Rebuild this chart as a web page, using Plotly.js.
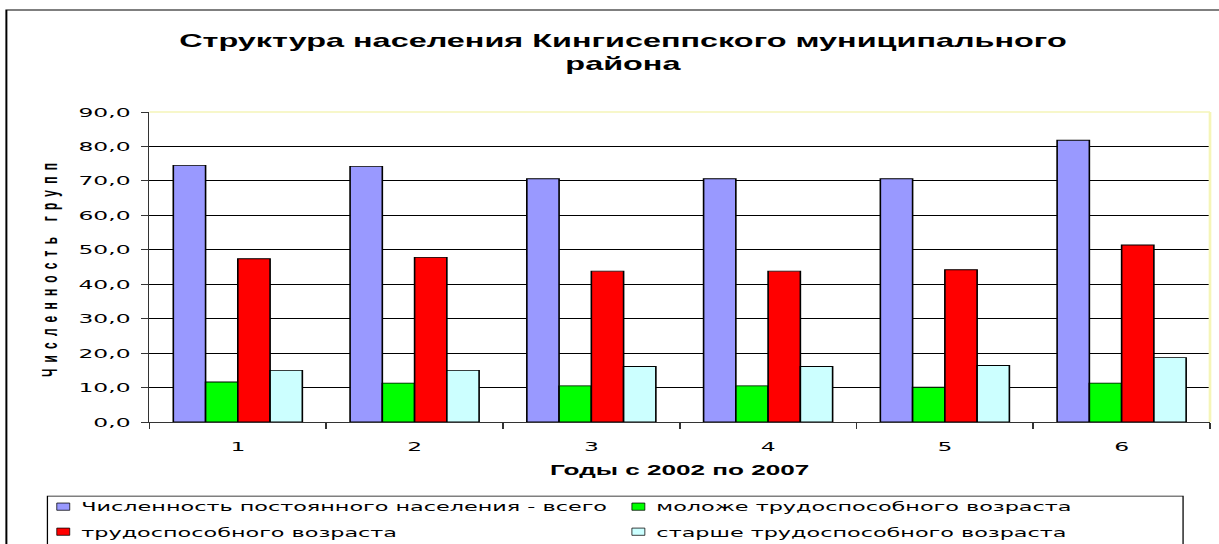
<!DOCTYPE html>
<html>
<head>
<meta charset="utf-8">
<script src="https://cdn.plot.ly/plotly-3.0.1.min.js"></script>
<style>
  html, body { margin: 0; padding: 0; background: #ffffff; overflow: hidden; }
  #wrap { width: 1219px; height: 544px; overflow: hidden; }
  #chart { width: 677px; height: 544px; transform: scaleX(1.8006); transform-origin: 0 0; }
  text.ytitle { letter-spacing: 6.2px; }
  g.legendpoints path { transform: translate(30px, 0px) scale(0.6, 0.6) !important; }
</style>
</head>
<body>
<div id="wrap"><div id="chart"></div></div>
<script>
// ---- data ----
const years = ['1', '2', '3', '4', '5', '6'];
const totalPop = [74.5, 74.2, 70.6, 70.6, 70.6, 81.8];
const youngerWorking = [11.6, 11.3, 10.5, 10.5, 10.1, 11.3];
const workingAge = [47.4, 47.8, 43.8, 43.8, 44.2, 51.4];
const olderWorking = [15.0, 15.0, 16.1, 16.1, 16.4, 18.7];
const seriesNames = [
  'Численность постоянного населения - всего',
  'моложе трудоспособного возраста',
  'трудоспособного возраста',
  'старше трудоспособного возраста'
];
const yTickVals = [0, 10, 20, 30, 40, 50, 60, 70, 80, 90];
const yTickText = ['0,0', '10,0', '20,0', '30,0', '40,0', '50,0', '60,0', '70,0', '80,0', '90,0'];
const chartTitle = 'Структура населения Кингисеппского муниципального<br>района';
const xTitle = 'Годы с 2002 по 2007';
const yTitle = 'Численность групп';

const outline = { color: '#000000', width: 0.9 };
const legendFont = { family: 'DejaVu Sans', size: 12.4, color: '#000000' };

const traces = [
  { type: 'bar', x: years, y: totalPop, name: seriesNames[0], legend: 'legend',
    marker: { color: '#9999ff', line: outline } },
  { type: 'bar', x: years, y: youngerWorking, name: seriesNames[1], legend: 'legend',
    marker: { color: '#00ff00', line: outline } },
  { type: 'bar', x: years, y: workingAge, name: seriesNames[2], legend: 'legend2',
    marker: { color: '#ff0000', line: outline } },
  { type: 'bar', x: years, y: olderWorking, name: seriesNames[3], legend: 'legend2',
    marker: { color: '#ccffff', line: outline } }
];

const legendCommon = {
  orientation: 'h', xanchor: 'left', yanchor: 'middle',
  bgcolor: 'rgba(0,0,0,0)', borderwidth: 0, font: legendFont,
  entrywidth: 274.4, entrywidthmode: 'pixels', traceorder: 'normal'
};

const layout = {
  width: 677, height: 544,
  margin: { l: 83.3, r: 5, t: 112, b: 122, autoexpand: false },
  paper_bgcolor: '#ffffff', plot_bgcolor: '#ffffff',
  barmode: 'group', bargap: 0.27, bargroupgap: 0,
  title: {
    text: chartTitle, x: 0.511, xanchor: 'center', y: 0.9145, yanchor: 'top',
    font: { family: 'Liberation Sans', size: 18, color: '#000000', weight: 'bold' }
  },
  xaxis: {
    type: 'category', tickson: 'boundaries', ticks: 'outside', ticklen: 6,
    tickcolor: '#333333', showline: true, linecolor: '#333333', linewidth: 1,
    showgrid: false, automargin: false, ticklabelstandoff: 12,
    tickfont: { family: 'DejaVu Sans', size: 13, color: '#000000' },
    title: { text: xTitle, standoff: 12,
      font: { family: 'Liberation Sans', size: 14.5, color: '#000000', weight: 'bold' } }
  },
  yaxis: {
    range: [0, 90], tickvals: yTickVals, ticktext: yTickText, automargin: false,
    ticks: 'outside', ticklen: 3.9, tickcolor: '#333333', ticklabelstandoff: 3,
    showline: true, linecolor: '#333333', linewidth: 1,
    showgrid: true, gridcolor: '#000000', gridwidth: 1, zeroline: false,
    tickfont: { family: 'DejaVu Sans', size: 13, color: '#000000' },
    title: { text: yTitle, standoff: 8,
      font: { family: 'Liberation Sans', size: 12, color: '#000000', weight: 'bold' } }
  },
  legend: Object.assign({}, legendCommon, { x: -0.1322, y: -0.2745 }),
  legend2: Object.assign({}, legendCommon, { x: -0.1322, y: -0.3553 }),
  shapes: [
    // plot area frame (top and right edges)
    { type: 'line', xref: 'paper', yref: 'paper', x0: 0, x1: 1, y0: 1, y1: 1,
      line: { color: '#f5f5b8', width: 1.5 }, layer: 'above' },
    { type: 'line', xref: 'paper', yref: 'paper', x0: 1, x1: 1, y0: 0, y1: 1,
      line: { color: '#f5f5b8', width: 1.5 }, layer: 'above' },
    // outer chart frame
    { type: 'rect', xref: 'paper', yref: 'paper', x0: -0.1349, x1: 1.05, y0: -0.5, y1: 1.329,
      line: { color: '#000000', width: 1.1 }, fillcolor: 'rgba(0,0,0,0)', layer: 'above' },
    // legend frame
    { type: 'rect', xref: 'paper', yref: 'paper', x0: -0.0962, x1: 0.9746, y0: -0.5, y1: -0.239,
      line: { color: '#000000', width: 0.7 }, fillcolor: 'rgba(0,0,0,0)', layer: 'above' }
  ]
};

Plotly.newPlot('chart', traces, layout, { displayModeBar: false, staticPlot: true });
</script>
</body>
</html>
